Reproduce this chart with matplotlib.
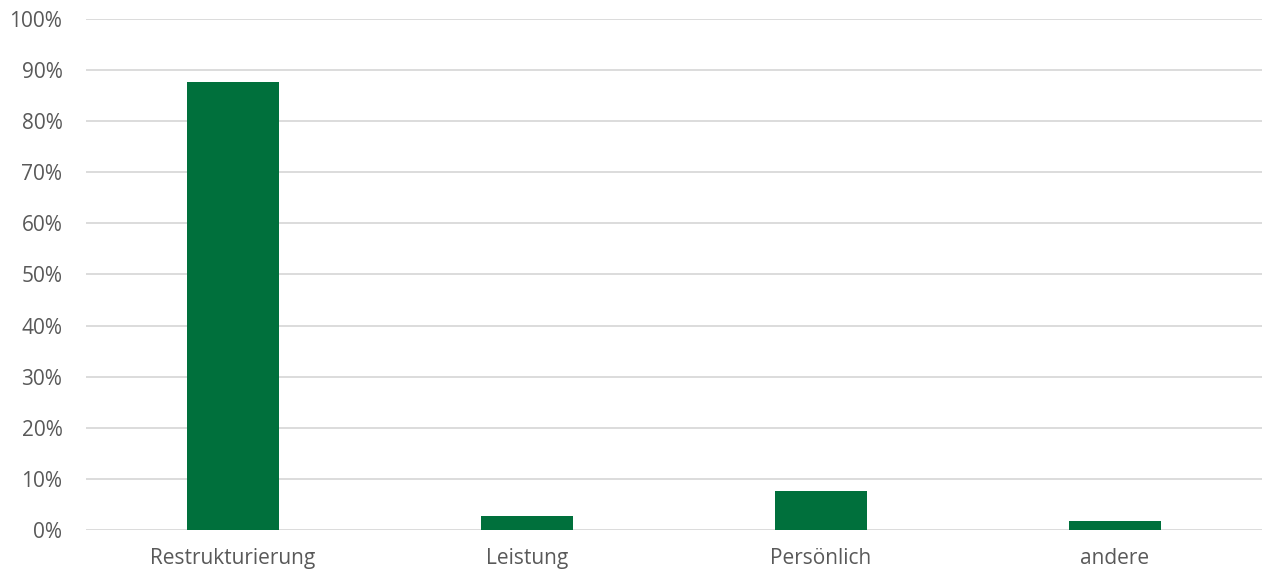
import matplotlib.pyplot as plt
from matplotlib.ticker import FuncFormatter

# Kategorien und Werte (Anteil in %)
kategorien = ["Restrukturierung", "Leistung", "Persönlich", "andere"]
werte = [87.6, 2.8, 7.7, 1.8]

fig = plt.figure(figsize=(12.72, 5.74), dpi=100)
ax = fig.add_axes([0.0676, 0.0767, 0.9245, 0.8903])

ax.bar(range(len(kategorien)), werte, width=0.31, color="#00703C", zorder=3)

ax.set_xlim(-0.5, len(kategorien) - 0.5)
ax.set_ylim(0, 100)
ax.set_yticks(range(0, 101, 10))
ax.yaxis.set_major_formatter(FuncFormatter(lambda v, p: f"{v:.0f}%"))
ax.set_xticks(range(len(kategorien)))
ax.set_xticklabels(kategorien)

ax.grid(axis="y", color="#D9D9D9", linewidth=1.3, zorder=0)
for s in ax.spines.values():
    s.set_visible(False)
ax.tick_params(length=0, labelsize=15, colors="#595959", labelfontfamily="Open Sans")
ax.tick_params(axis="y", pad=17)
ax.tick_params(axis="x", pad=13)

fig.savefig("out.png", dpi=100)
